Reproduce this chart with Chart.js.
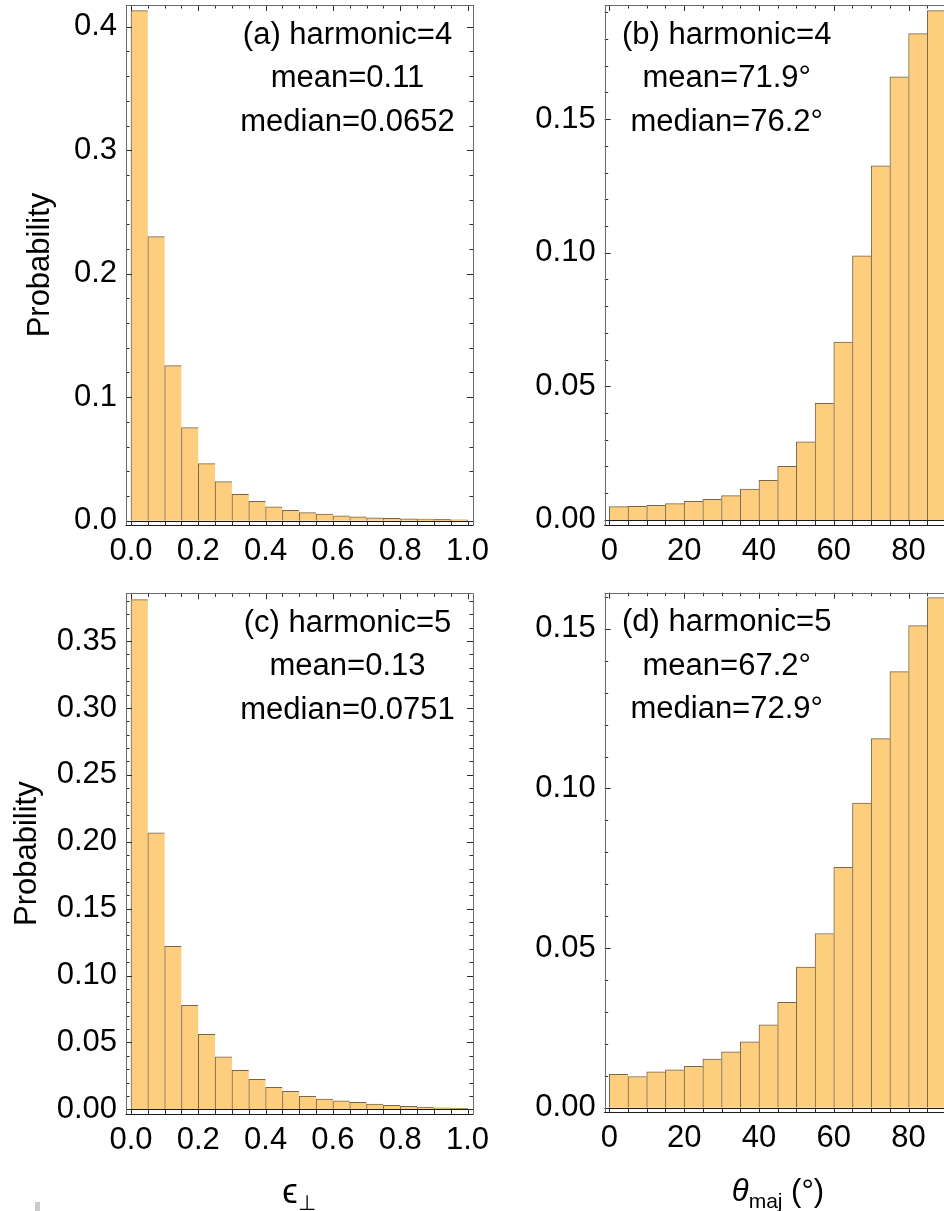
<!DOCTYPE html>
<html>
<head>
<meta charset="utf-8">
<script src="https://cdn.jsdelivr.net/npm/chart.js@4.4.0/dist/chart.umd.min.js"></script>
<style>
  html, body { margin: 0; padding: 0; background: #fff; overflow: hidden; }
  #page { position: relative; width: 944px; height: 1211px; overflow: hidden; }
  canvas { position: absolute; }
  .xtitle {
    position: absolute; width: 240px; text-align: center; white-space: nowrap;
    font: 31px "Liberation Sans", Arial, sans-serif; line-height: 31px; color: #000;
  }
  .xtitle sub { font-size: 21px; vertical-align: baseline; position: relative; top: 7px; }
  .xtitle .eps { font-size: 35px; }
  .mark { position: absolute; left: 35px; top: 1202px; width: 5px; height: 9px; background: #cbcbcb; }
</style>
</head>
<body>
<div id="page">
  <canvas id="panelA" width="500" height="580" style="left:0;top:0"></canvas>
  <canvas id="panelB" width="480" height="580" style="left:480px;top:0"></canvas>
  <canvas id="panelC" width="500" height="651" style="left:0;top:560px"></canvas>
  <canvas id="panelD" width="480" height="651" style="left:480px;top:560px"></canvas>
  <div class="xtitle" style="left:179px;top:1175px"><span class="eps">ϵ</span><sub>⊥</sub></div>
  <div class="xtitle" style="left:658px;top:1175px"><i>θ</i><sub>maj</sub> (°)</div>
  <div class="mark"></div>
</div>
<script>
// bin centres
const epsBins = [0.025, 0.075, 0.125, 0.175, 0.225, 0.275, 0.325, 0.375, 0.425, 0.475,
                 0.525, 0.575, 0.625, 0.675, 0.725, 0.775, 0.825, 0.875, 0.925, 0.975];
const thetaBins = [2.5, 7.5, 12.5, 17.5, 22.5, 27.5, 32.5, 37.5, 42.5,
                   47.5, 52.5, 57.5, 62.5, 67.5, 72.5, 77.5, 82.5, 87.5];

// probabilities
const eps4 = [0.413, 0.230, 0.1255, 0.0753, 0.0462, 0.0316, 0.0214, 0.0157, 0.0113, 0.0084,
              0.0065, 0.0054, 0.0040, 0.0032, 0.0024, 0.0019, 0.0015, 0.0012, 0.0010, 0.0007];
const theta4 = [0.0050, 0.0051, 0.0055, 0.0061, 0.0070, 0.0077, 0.0091, 0.0115, 0.0148,
                0.0201, 0.0292, 0.0436, 0.0666, 0.0988, 0.1325, 0.1658, 0.1820, 0.1906];
const eps5 = [0.381, 0.2067, 0.1218, 0.0777, 0.0560, 0.0393, 0.0291, 0.0224, 0.0164, 0.0135,
              0.0097, 0.0077, 0.0064, 0.0052, 0.0040, 0.0030, 0.0022, 0.0017, 0.0012, 0.0008];
const theta5 = [0.0105, 0.0098, 0.0113, 0.0119, 0.0130, 0.0153, 0.0175, 0.0207, 0.0260,
                0.0330, 0.0441, 0.0546, 0.0753, 0.0954, 0.1156, 0.1366, 0.1510, 0.1598];

// tick values and labels
const epsTicks = [0, 0.2, 0.4, 0.6, 0.8, 1.0];
const epsLabels = ["0.0", "0.2", "0.4", "0.6", "0.8", "1.0"];
const thetaTicks = [0, 20, 40, 60, 80];
const thetaLabels = ["0", "20", "40", "60", "80"];
const yTicksA = [0, 0.1, 0.2, 0.3, 0.4];
const yLabelsA = ["0.0", "0.1", "0.2", "0.3", "0.4"];
const yTicksB = [0, 0.05, 0.10, 0.15];
const yLabelsB = ["0.00", "0.05", "0.10", "0.15"];
const yTicksC = [0, 0.05, 0.10, 0.15, 0.20, 0.25, 0.30, 0.35];
const yLabelsC = ["0.00", "0.05", "0.10", "0.15", "0.20", "0.25", "0.30", "0.35"];
const yTicksD = [0, 0.05, 0.10, 0.15];
const yLabelsD = ["0.00", "0.05", "0.10", "0.15"];

const notesA = ["(a) harmonic=4", "mean=0.11", "median=0.0652"];
const notesB = ["(b) harmonic=4", "mean=71.9°", "median=76.2°"];
const notesC = ["(c) harmonic=5", "mean=0.13", "median=0.0751"];
const notesD = ["(d) harmonic=5", "mean=67.2°", "median=72.9°"];

const FONT = '"Liberation Sans", Arial, sans-serif';
Chart.defaults.font.family = FONT;
Chart.defaults.font.size = 31;
Chart.defaults.color = "#000";

const barFill = "rgb(253, 206, 125)";
const barEdge = "rgba(95, 75, 45, 0.85)";

function tickRange(lo, hi, step) {
  const out = [];
  for (let i = Math.ceil(lo / step - 1e-9); i * step <= hi + 1e-9; i++) out.push(i * step);
  return out;
}

const snap = (v) => Math.round(v) + 0.5;

// Mathematica-like frame: ticks inward on all four sides, zero line
const framePlugin = {
  id: "frame",
  afterDatasetsDraw(chart, args, opts) {
    const { ctx, chartArea: a, scales: { x, y } } = chart;
    const isMajor = (list, v) => list.some((m) => Math.abs(m - v) < 1e-6);
    const line = (x1, y1, x2, y2) => { ctx.beginPath(); ctx.moveTo(x1, y1); ctx.lineTo(x2, y2); ctx.stroke(); };
    ctx.save();
    ctx.lineWidth = 1;
    const y0 = snap(y.getPixelForValue(0));
    ctx.strokeStyle = "#1a1a1a";
    line(a.left, y0, a.right, y0);

    ctx.strokeStyle = "#2a2a2a";
    tickRange(x.min, x.max, opts.xMinor).forEach((v) => {
      const px = snap(x.getPixelForValue(v));
      const len = isMajor(opts.xMajor, v) ? 6 : 3.5;
      line(px, a.top, px, a.top + len);
      line(px, a.bottom, px, y0);
    });
    tickRange(y.min, y.max, opts.yMinor).forEach((v) => {
      const py = snap(y.getPixelForValue(v));
      const len = isMajor(opts.yMajor, v) ? 6 : 3.5;
      line(a.left, py, a.left + len, py);
      line(a.right, py, a.right - len, py);
    });

    ctx.strokeStyle = "#6a6a6a";
    line(snap(a.left), a.top, snap(a.left), a.bottom);
    line(snap(a.right), a.top, snap(a.right), a.bottom);
    line(a.left, snap(a.top), a.right, snap(a.top));
    ctx.strokeStyle = "#1a1a1a";
    line(a.left - 0.5, snap(a.bottom), a.right + 0.5, snap(a.bottom));

    ctx.fillStyle = "#000";
    ctx.font = "31px " + FONT;
    ctx.textAlign = "center";
    ctx.textBaseline = "alphabetic";
    opts.notes.forEach((t, i) => {
      ctx.fillText(t, a.left + opts.noteX, a.top + opts.noteY[i]);
    });
    ctx.restore();
  },
};

function makePanel(id, p) {
  const n = p.values.length;
  return new Chart(document.getElementById(id), {
    type: "bar",
    data: {
      datasets: [{
        data: p.bins.map((c, i) => ({ x: c, y: p.values[i] })),
        backgroundColor: barFill,
        borderColor: barEdge,
        borderWidth: (ctx) => ({ top: 1, left: 1, bottom: 0, right: ctx.dataIndex === n - 1 ? 1 : 0 }),
        borderSkipped: false,
        barPercentage: 1,
        categoryPercentage: 1,
      }],
    },
    options: {
      responsive: false,
      animation: false,
      events: [],
      layout: { padding: p.pad },
      plugins: {
        legend: { display: false },
        tooltip: { enabled: false },
        frame: {
          xMajor: p.xTicks, xMinor: p.xMinor,
          yMajor: p.yTicks, yMinor: p.yMinor,
          notes: p.notes, noteX: p.noteX, noteY: [38.5, 82, 125.5],
        },
      },
      scales: {
        x: {
          type: "linear",
          min: p.xMin, max: p.xMax,
          offset: false,
          grid: { display: false, drawTicks: false },
          border: { display: false },
          ticks: { autoSkip: false, maxRotation: 0, padding: 8, callback: (v, i) => p.xLabels[i] },
          afterBuildTicks: (s) => { s.ticks = p.xTicks.map((v) => ({ value: v })); },
          afterFit: (s) => { s.height = p.xH; s.paddingLeft = 0; s.paddingRight = 0; },
        },
        y: {
          min: p.yMin, max: p.yMax,
          grid: { display: false, drawTicks: false },
          border: { display: false },
          title: { display: p.yTitle, text: "Probability", font: { size: 31 }, padding: { top: p.titlePad, bottom: 0 } },
          ticks: { autoSkip: false, padding: 9, callback: (v, i) => p.yLabels[i] },
          afterBuildTicks: (s) => { s.ticks = p.yTicks.map((v) => ({ value: v })); },
          afterFit: (s) => { s.width = p.yW; s.paddingTop = 0; s.paddingBottom = 0; },
        },
      },
    },
    plugins: [framePlugin],
  });
}

makePanel("panelA", {
  bins: epsBins, values: eps4,
  xMin: -0.0149, xMax: 1.0163, xTicks: epsTicks, xLabels: epsLabels, xMinor: 0.05,
  yMin: -0.0035, yMax: 0.4176, yTicks: yTicksA, yLabels: yLabelsA, yMinor: 0.02,
  pad: { left: 0, top: 5, right: 27, bottom: 0 }, yW: 126, xH: 55, yTitle: true, titlePad: 21.5,
  notes: notesA, noteX: 221.5,
});

makePanel("panelB", {
  bins: thetaBins, values: theta4,
  xMin: -1.23, xMax: 91.2, xTicks: thetaTicks, xLabels: thetaLabels, xMinor: 5,
  yMin: -0.0019, yMax: 0.1927, yTicks: yTicksB, yLabels: yLabelsB, yMinor: 0.01,
  pad: { left: 0, top: 5, right: 9.5, bottom: 0 }, yW: 124.7, xH: 55, yTitle: false, titlePad: 0,
  notes: notesB, noteX: 122,
});

makePanel("panelC", {
  bins: epsBins, values: eps5,
  xMin: -0.0149, xMax: 1.0163, xTicks: epsTicks, xLabels: epsLabels, xMinor: 0.05,
  yMin: -0.0035, yMax: 0.3857, yTicks: yTicksC, yLabels: yLabelsC, yMinor: 0.01,
  pad: { left: 0, top: 33.3, right: 27, bottom: 0 }, yW: 126, xH: 97, yTitle: true, titlePad: 8.5,
  notes: notesC, noteX: 221.5,
});

makePanel("panelD", {
  bins: thetaBins, values: theta5,
  xMin: -1.23, xMax: 91.2, xTicks: thetaTicks, xLabels: thetaLabels, xMinor: 5,
  yMin: -0.0014, yMax: 0.1613, yTicks: yTicksD, yLabels: yLabelsD, yMinor: 0.01,
  pad: { left: 0, top: 32.7, right: 9.5, bottom: 0 }, yW: 124.7, xH: 98.7, yTitle: false, titlePad: 0,
  notes: notesD, noteX: 122,
});
</script>
</body>
</html>
